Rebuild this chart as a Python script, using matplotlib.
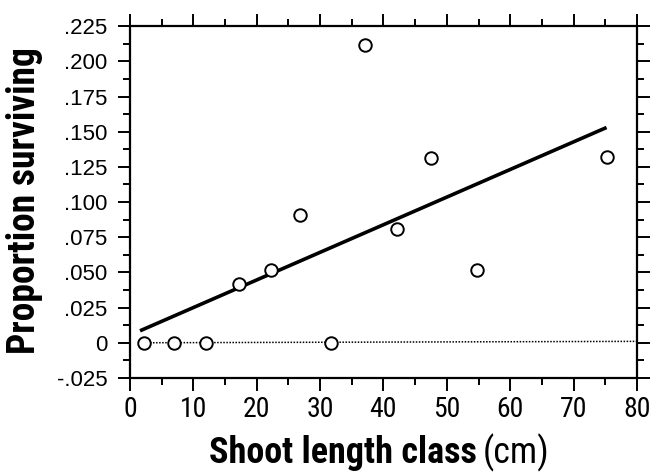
import numpy as np
import matplotlib
matplotlib.use("Agg")
import matplotlib.pyplot as plt
from matplotlib.ticker import MultipleLocator, FixedLocator

plt.rcParams['font.family'] = ['Roboto Condensed', 'DejaVu Sans']

# shoot length class midpoints (cm) and proportion surviving
shoot_len = [2.2, 7, 12, 17.2, 22.2, 26.8, 31.7, 37.1, 42.2, 47.5, 54.8, 75.2]
surviving = [0, 0, 0, 0.042, 0.052, 0.091, 0, 0.2115, 0.081, 0.131, 0.052, 0.132]

# fitted regression line (end points)
fit_x = [1.6, 75.2]
fit_y = [0.0085, 0.153]

# dotted zero reference line
zero_x = [2.2, 80]
zero_y = [0, 0.001]

y_ticks = [-0.025, 0, 0.025, 0.05, 0.075, 0.1, 0.125, 0.15, 0.175, 0.2, 0.225]
y_labels = ['-.025', '0', '.025', '.050', '.075', '.100', '.125', '.150', '.175', '.200', '.225']
x_ticks = [0, 10, 20, 30, 40, 50, 60, 70, 80]

fig = plt.figure(figsize=(6.56, 4.76), dpi=100)
ax = fig.add_axes([0.198, 0.206, 0.773, 0.739])

ax.plot(zero_x, zero_y, color='black', lw=1.1, ls=(0, (1, 1)), zorder=1)
ax.plot(fit_x, fit_y, color='black', lw=2.6, solid_capstyle='butt', zorder=2)
ax.plot(shoot_len, surviving, 'o', ms=9, mfc='white', mec='black', mew=1.4, zorder=3)

ax.set_xlim(0, 80)
ax.set_ylim(-0.025, 0.225)
ax.xaxis.set_major_locator(FixedLocator(x_ticks))
ax.xaxis.set_minor_locator(MultipleLocator(5))
ax.yaxis.set_major_locator(FixedLocator(y_ticks))
ax.yaxis.set_minor_locator(MultipleLocator(0.0125))
ax.set_yticklabels(y_labels, family=['Liberation Sans', 'DejaVu Sans'])

for s in ax.spines.values():
    s.set_linewidth(1.6)

ax.tick_params(which='both', direction='out', top=True, right=True, width=1.4)
ax.tick_params(which='major', length=9)
ax.tick_params(which='minor', length=5)
ax.tick_params(axis='x', labelsize=20, pad=4)
ax.tick_params(axis='y', labelsize=16, pad=7)

ax.set_ylabel('Proportion surviving', fontsize=27, fontweight='bold')
ax.yaxis.set_label_coords(-0.172, 0.505)

# x label: bold part plus plain "(cm)"
t = fig.text(0.318, 0.027, 'Shoot length class', fontsize=26, fontweight='bold',
             ha='left', va='baseline')
fig.canvas.draw()
bb = t.get_window_extent()
fig.text(bb.x1 / fig.bbox.width + 0.01, 0.027, '(cm)', fontsize=26,
         ha='left', va='baseline')

fig.savefig('out.png', dpi=100)
